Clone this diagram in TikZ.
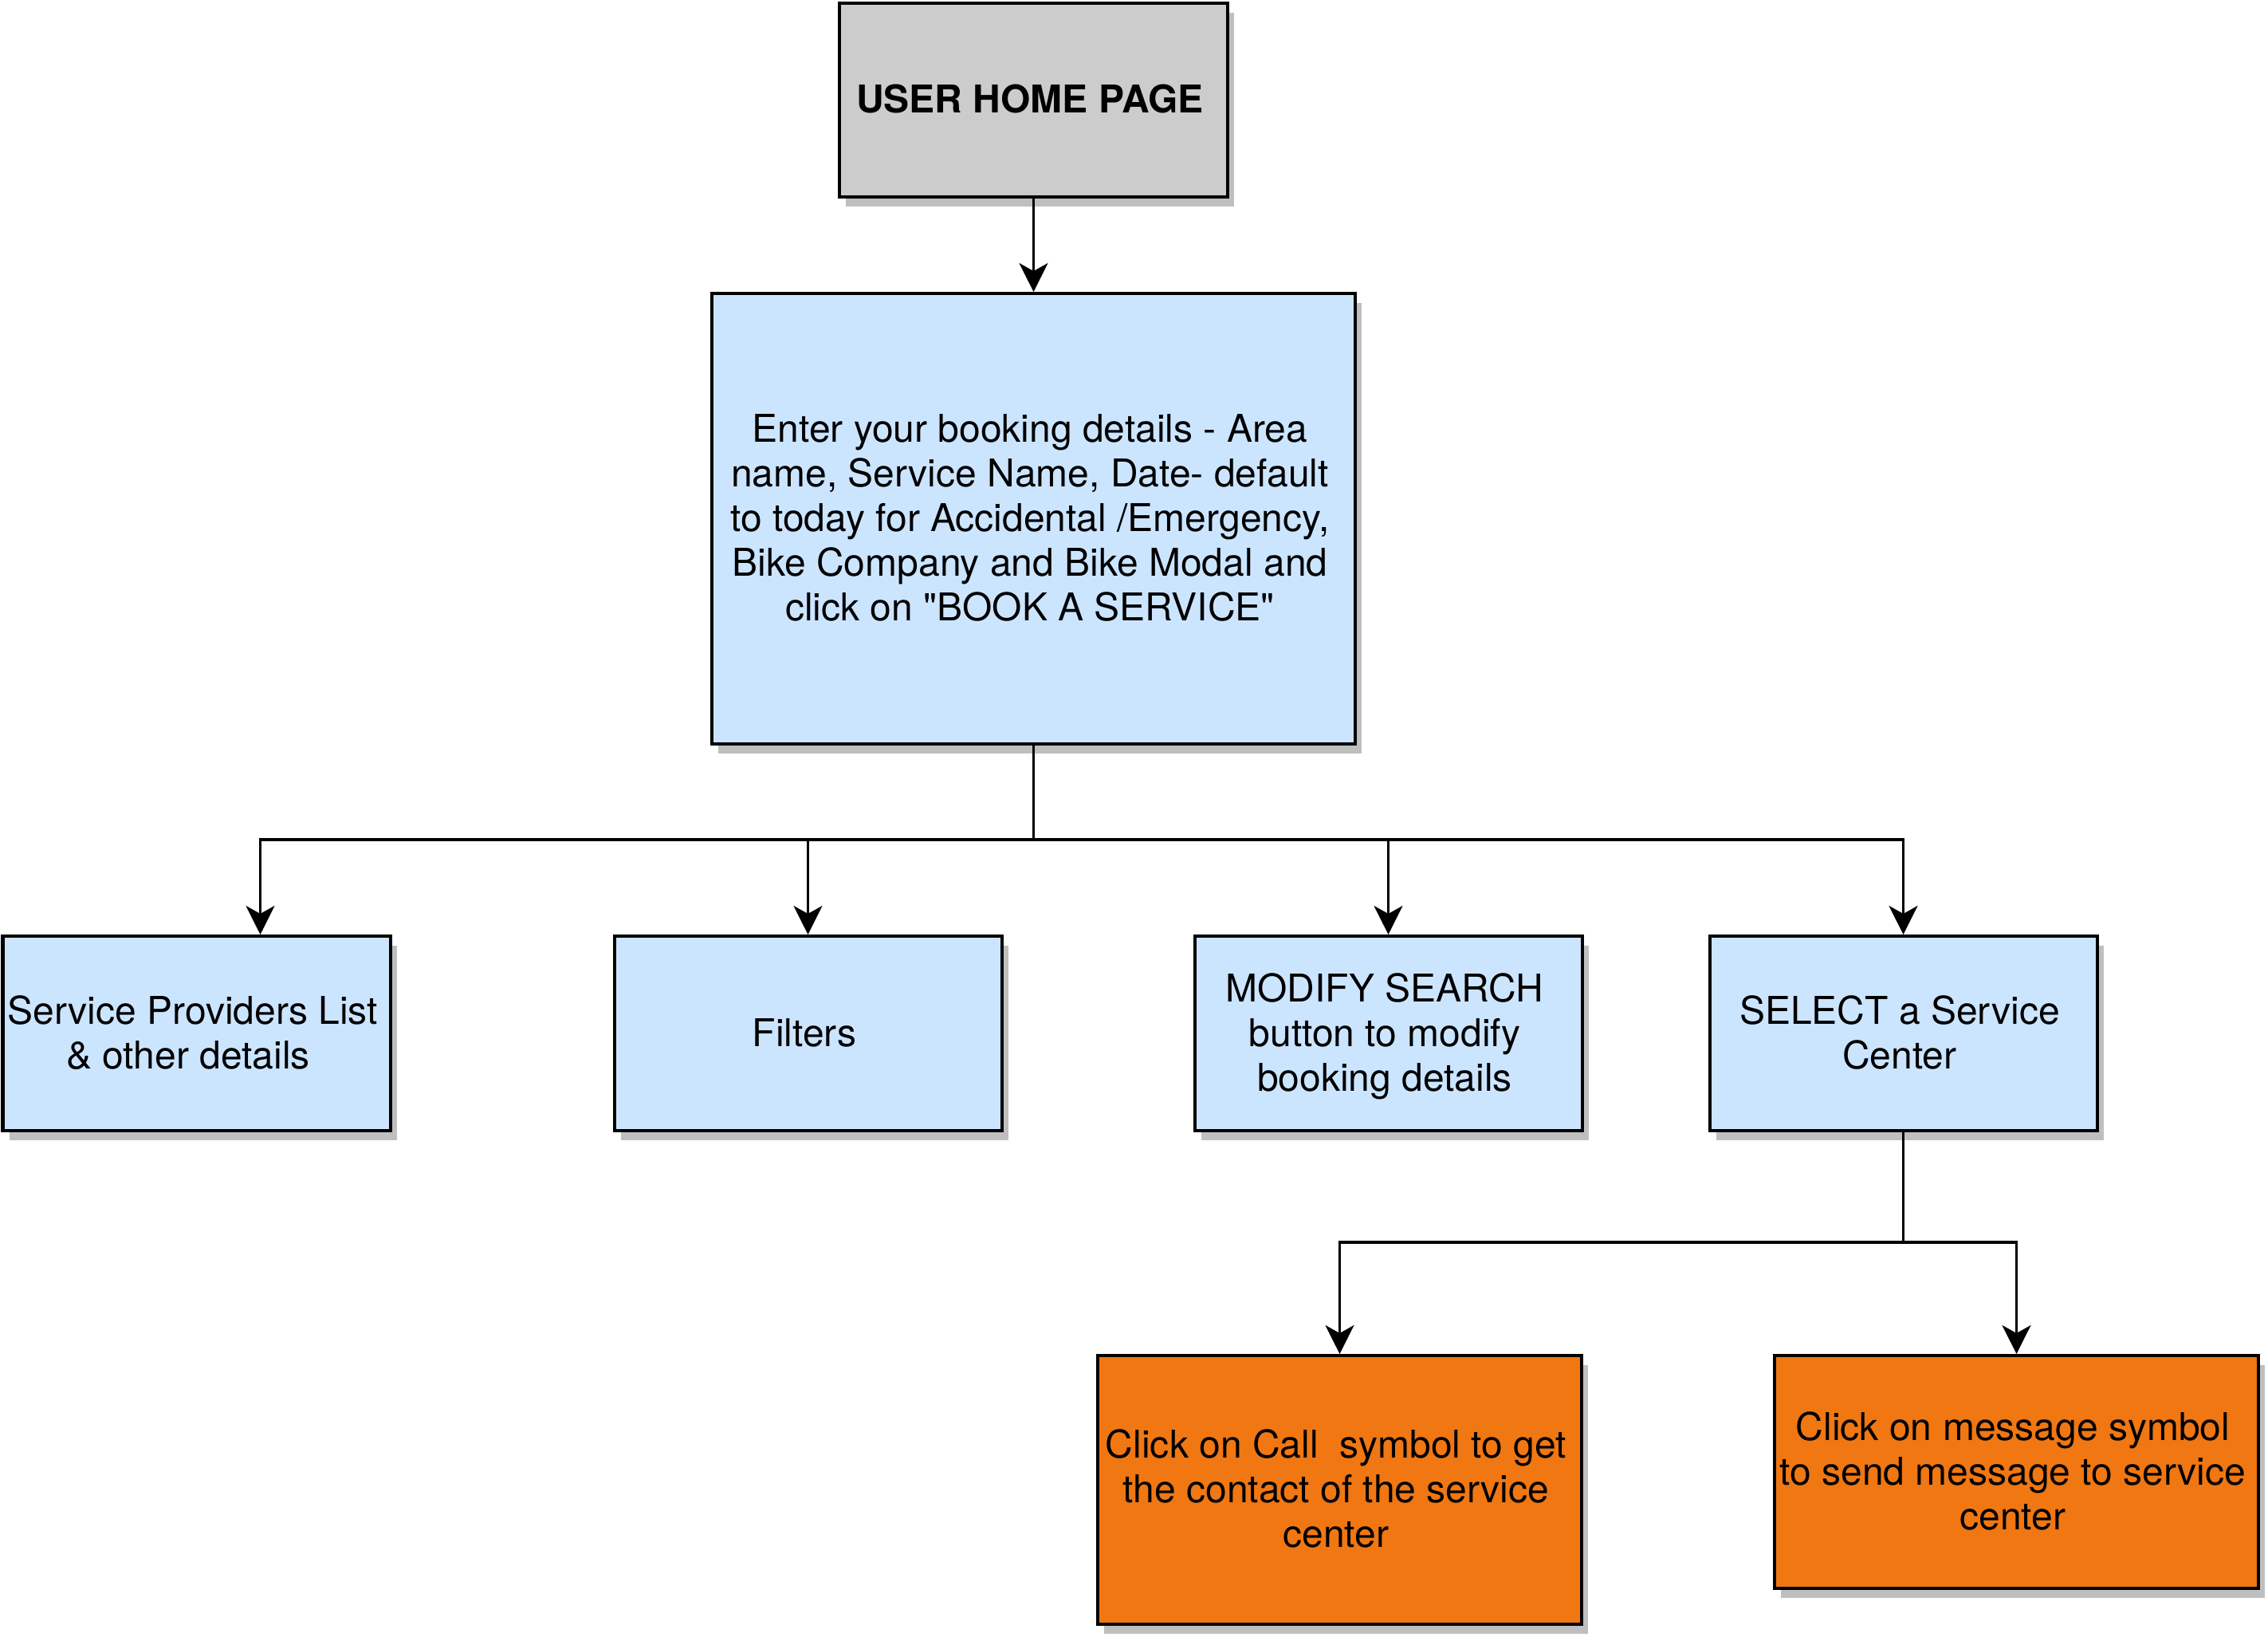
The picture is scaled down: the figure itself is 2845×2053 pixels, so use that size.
\documentclass[tikz,border=0pt]{standalone}
\usepackage{fontspec}
\setmainfont{TeX Gyre Heros}[Ligatures=TeXOff]
\usetikzlibrary{arrows.meta,shadows,positioning}
\definecolor{topgray}{HTML}{CCCCCC}
\definecolor{lightblue}{HTML}{CCE5FF}
\definecolor{boxorange}{HTML}{F07712}
\definecolor{shadowgray}{HTML}{BFBFBF}
\newcommand{\boxlines}[1]{\raisebox{-1.2pt}[\height][\depth]{\begin{tabular}{@{}c@{}}#1\end{tabular}}\hspace*{2.3pt}}
\tikzset{
  boxbase/.style={rectangle, draw=black, line width=1pt, inner sep=0pt,
    font=\fontsize{12pt}{14pt}\selectfont,
    drop shadow={shadow xshift=2pt, shadow yshift=-3pt, fill=shadowgray, opacity=1}},
  topbox/.style={boxbase, fill=topgray, minimum width=121.75pt, minimum height=60.75pt,
    font=\fontsize{12pt}{14pt}\selectfont\bfseries},
  bluebox/.style={boxbase, fill=lightblue},
  rowbox/.style={bluebox, minimum width=121.5pt, minimum height=61pt},
  orangebox/.style={boxbase, fill=boxorange, minimum width=151.75pt},
  arr/.style={draw=black, line width=0.8pt, -{Stealth[length=9pt,width=9pt,inset=2.5pt]}},
  plainline/.style={draw=black, line width=0.8pt}
}
\begin{document}
\begin{tikzpicture}[x=0.25pt,y=-0.25pt]
\useasboundingbox (0,0) rectangle (2845,2053);
\node[topbox] (top) at (1296.5,125.5) {\boxlines{USER HOME PAGE}};
\node[bluebox, minimum width=201.75pt, minimum height=141.25pt] (big) at (1296.5,650.5)
  {\boxlines{Enter your booking details - Area\\name, Service Name, Date- default\\to today for Accidental /Emergency,\\Bike Company and Bike Modal and\\click on "BOOK A SERVICE"}};
\node[rowbox] (b1) at (246.5,1296) {\boxlines{Service Providers List\\\& other details\hspace*{3pt}}};
\node[rowbox] (b2) at (1013.5,1296) {\boxlines{Filters}};
\node[rowbox] (b3) at (1741.5,1296) {\boxlines{MODIFY SEARCH\\button to modify\\booking details}};
\node[rowbox] (b4) at (2387.5,1296) {\boxlines{SELECT a Service\\Center}};
\node[orangebox, minimum height=84.25pt] (b5) at (1680.5,1868.5) {\boxlines{Click on Call\ \ symbol to get\\the contact of the service\\center}};
\node[orangebox, minimum height=73pt] (b6) at (2529.5,1846) {\boxlines{Click on message symbol\\to send message to service\\center}};
\coordinate (j1) at (1296.5,1053);
\coordinate (j2) at (2387.5,1558);
\draw[arr] (top) -- (big);
\draw[plainline] (big.south) -- (j1);
\draw[arr] (j1) -| ([xshift=20pt]b1.north);
\draw[arr] (j1) -| (b2.north);
\draw[arr] (j1) -| (b3.north);
\draw[arr] (j1) -| (b4.north);
\draw[plainline] (b4.south) -- (j2);
\draw[arr] (j2) -| (b5.north);
\draw[arr] (j2) -| (b6.north);
\end{tikzpicture}
\end{document}
